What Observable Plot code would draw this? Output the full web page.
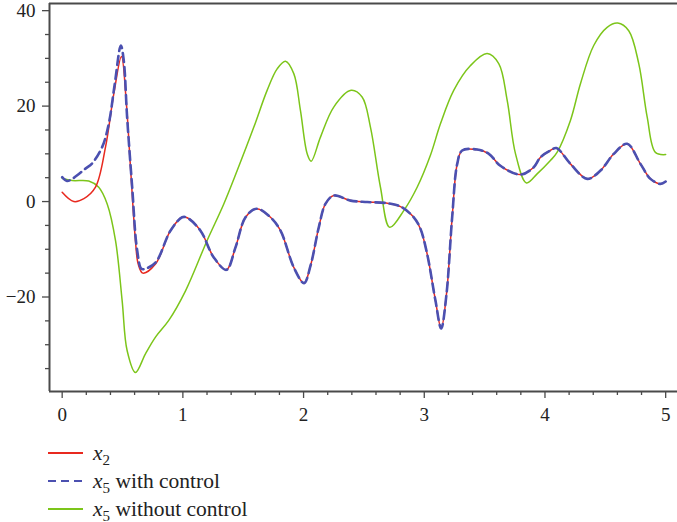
<!DOCTYPE html>
<html><head><meta charset="utf-8">
<script src="https://cdn.jsdelivr.net/npm/d3@7"></script>
<script src="https://cdn.jsdelivr.net/npm/@observablehq/plot@0.6"></script>
<style>
body{margin:0;background:#fff;font-family:"Liberation Serif",serif;}
#chart{position:relative;width:677px;height:522px;}
#chart svg text{font-family:"Liberation Serif","Times New Roman",serif !important;}
#legend{position:absolute;left:48px;top:439px;font-size:21.5px;color:#222;font-family:"Liberation Serif",serif;}
.row{height:28px;display:flex;align-items:center;white-space:nowrap;}
.row svg{margin-right:10px;}
sub{font-size:70%;vertical-align:-0.3em;line-height:0;}
</style></head><body><div id="chart"><div id="legend"></div></div>
<script>
// x2 (red)
const x2T = [0,0.096,0.18,0.276,0.359,0.428,0.491,0.53,0.566,0.607,0.63,0.668,0.773,0.897,0.994,1.036,1.146,1.256,1.361,1.436,1.519,1.61,1.726,1.809,1.919,2.004,2.057,2.126,2.181,2.25,2.389,2.527,2.693,2.803,2.913,2.968,3.024,3.093,3.14,3.184,3.231,3.273,3.314,3.438,3.535,3.631,3.797,3.907,3.963,4.045,4.095,4.211,4.35,4.46,4.57,4.681,4.791,4.874,4.957,5.0];
const x2V = [1.95,0.0,0.6,3.0,11.4,22.6,30.4,21.2,7.2,-8.2,-13.1,-15.0,-13.1,-6.1,-3.3,-3.4,-6.1,-11.7,-14.3,-9.6,-3.3,-1.5,-3.3,-6.1,-13.8,-17.1,-13.5,-5.4,-0.5,1.26,0.2,-0.1,-0.35,-1.05,-3.3,-5.7,-11.0,-20.8,-26.6,-19.4,-3.3,7.9,10.7,10.9,10.0,7.5,5.66,7.2,9.3,10.7,11.2,7.9,4.75,6.5,10.0,12.1,7.9,4.75,3.7,4.2];
// x5 with control (blue dashed)
const x5cT = [0,0.04,0.08,0.193,0.248,0.331,0.386,0.436,0.486,0.51,0.538,0.58,0.62,0.657,0.685,0.773,0.897,0.994,1.036,1.146,1.256,1.361,1.436,1.519,1.61,1.726,1.809,1.919,2.004,2.057,2.126,2.181,2.25,2.389,2.527,2.693,2.803,2.913,2.968,3.024,3.093,3.14,3.184,3.231,3.273,3.314,3.438,3.535,3.631,3.797,3.907,3.963,4.045,4.095,4.211,4.35,4.46,4.57,4.681,4.791,4.874,4.957,5.0];
const x5cV = [5.1,4.3,4.7,6.9,8.0,11.4,16.3,24.7,32.7,29.6,17.7,3.0,-10.0,-14.1,-14.1,-12.8,-6.1,-3.3,-3.4,-6.1,-11.7,-14.3,-9.6,-3.3,-1.5,-3.3,-6.1,-13.8,-17.1,-13.5,-5.4,-0.5,1.26,0.2,-0.1,-0.35,-1.05,-3.3,-5.7,-11.0,-20.8,-26.6,-19.4,-3.3,7.9,10.7,10.9,10.0,7.5,5.66,7.2,9.3,10.7,11.2,7.9,4.75,6.5,10.0,12.1,7.9,4.75,3.7,4.2];
// x5 without control (green)
const x5nT = [0,0.083,0.22,0.303,0.373,0.442,0.497,0.538,0.607,0.69,0.773,0.883,1.022,1.2,1.339,1.45,1.588,1.698,1.781,1.85,1.919,1.974,2.03,2.063,2.14,2.25,2.394,2.485,2.554,2.637,2.714,2.83,2.941,3.051,3.134,3.244,3.383,3.521,3.617,3.687,3.756,3.847,3.935,4.045,4.1,4.211,4.294,4.404,4.515,4.603,4.694,4.777,4.847,4.915,5.0];
const x5nV = [4.9,4.4,4.3,3.0,-0.5,-8.2,-20.8,-31.2,-35.8,-31.9,-28.4,-24.9,-18.7,-8.2,-0.5,6.5,15.6,23.3,27.8,29.4,26.8,19.1,10.0,8.45,13.5,19.8,23.3,21.9,15.6,3.0,-5.4,-1.9,3.0,9.7,16.3,23.3,28.5,31.0,28.9,21.2,10.0,3.9,5.8,8.6,10.3,17.0,24.7,32.7,36.5,37.4,35.8,28.9,17.7,10.3,9.85];

const xMajor = [0,1,2,3,4,5];
const xMinor = [0.2,0.4,0.6,0.8,1.2,1.4,1.6,1.8,2.2,2.4,2.6,2.8,3.2,3.4,3.6,3.8,4.2,4.4,4.6,4.8];
const yMajor = [-20,0,20,40];
const yMinor = [-35,-30,-25,-15,-10,-5,5,10,15,25,30,35];

const seriesNames = ["x2","x5 with control","x5 without control"];
const colors = ["#e8291f","#4b50b0","#7cc51a"];

const toRows = (T,V) => T.map((t,i)=>({t, v:V[i]}));
const red = toRows(x2T,x2V), blue = toRows(x5cT,x5cV), green = toRows(x5nT,x5nV);

const xDom = [-0.105, 5.098], yDom = [-39.8, 41.5];
const axisColor = "#4a4a4a";
const fmt = d => d < 0 ? "\u2212" + Math.abs(d) : String(d);

const chart = Plot.plot({
  width: 677, height: 428,
  marginLeft: 49, marginRight: 0, marginTop: 3, marginBottom: 37,
  x: {domain: xDom}, y: {domain: yDom},
  style: {fontSize: "19px", color: "#222", background: "#fff"},
  marks: [
    Plot.axisY(yMajor, {tickSize: 7, tickPadding: 7, stroke: axisColor, strokeWidth: 1.3, label: null, tickFormat: fmt, fontSize: 19}),
    Plot.axisY(yMinor, {tickSize: 4, tickFormat: () => "", stroke: axisColor, strokeWidth: 1.3, label: null}),
    Plot.axisX(xMajor, {tickSize: 7, tickPadding: 9, stroke: axisColor, strokeWidth: 1.3, label: null, tickFormat: fmt, fontSize: 19}),
    Plot.axisX(xMinor, {tickSize: 4, tickFormat: () => "", stroke: axisColor, strokeWidth: 1.3, label: null}),
    Plot.ruleX([xDom[0]], {stroke: axisColor, strokeWidth: 2}),
    Plot.ruleY([yDom[0]], {stroke: axisColor, strokeWidth: 2}),
    Plot.ruleY([yDom[1]], {stroke: axisColor, strokeWidth: 2}),
    Plot.line(green, {x: "t", y: "v", stroke: colors[2], strokeWidth: 1.5, curve: "catmull-rom"}),
    Plot.line(red, {x: "t", y: "v", stroke: colors[0], strokeWidth: 1.5, curve: "catmull-rom"}),
    Plot.line(blue, {x: "t", y: "v", stroke: colors[1], strokeWidth: 2.6, strokeDasharray: "9,5", curve: "catmull-rom"})
  ]
});
const root = document.getElementById("chart");
root.insertBefore(chart, root.firstChild);

const legend = document.getElementById("legend");
const labelsHtml = ['<i>x</i><sub>2</sub>', '<i>x</i><sub>5</sub> with control', '<i>x</i><sub>5</sub> without control'];
seriesNames.forEach((n,i)=>{
  const row = document.createElement("div");
  row.className = "row";
  const dash = i===1 ? 'stroke-dasharray="8,5"' : '';
  row.innerHTML = `<svg width="35" height="6"><line x1="0" y1="3" x2="35" y2="3" stroke="${colors[i]}" stroke-width="${i===1?2.2:1.8}" ${dash}/></svg><span>${labelsHtml[i]}</span>`;
  legend.appendChild(row);
});
</script></body></html>
